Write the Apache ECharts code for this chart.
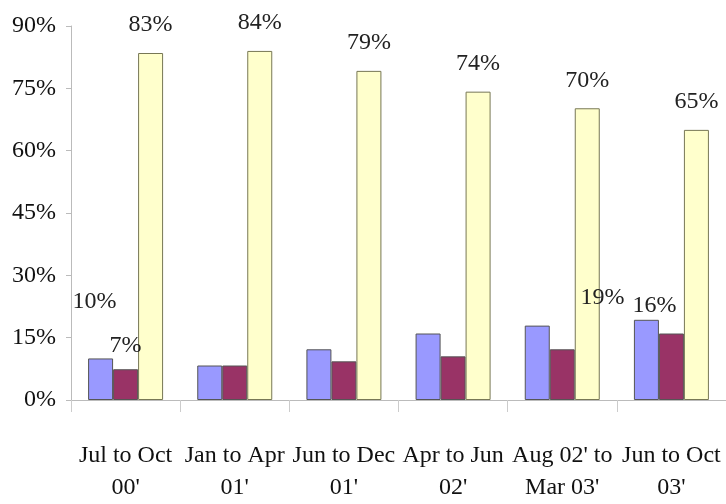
<!DOCTYPE html>
<html>
<head>
<meta charset="utf-8">
<script src="https://cdn.jsdelivr.net/npm/echarts@6/dist/echarts.min.js"></script>
<style>
  html, body { margin: 0; padding: 0; background: #fff; }
  #chart { width: 726px; height: 504px; }
</style>
</head>
<body>
<div id="chart"></div>
<script>
var categories = ["Jul to Oct\n00'", "Jan to Apr\n01'", "Jun to Dec\n01'", "Apr to Jun\n02'", "Aug 02' to\nMar 03'", "Jun to Oct\n03'"]
var blueValues = [10, 8.3, 12.2, 16, 17.9, 19.3]
var redValues = [7.4, 8.3, 9.3, 10.5, 12.2, 16]
var yellowValues = [83.5, 84, 79.2, 74.2, 70.2, 65]
var blueLabels = ['10%', '', '', '', '', '19%']
var redLabels = ['7%', '', '', '', '', '16%']
var yellowLabels = ['83%', '84%', '79%', '74%', '70%', '65%']

// where the odd labels sit relative to their bars
var blueOffsets = [[-6, -37], null, null, null, null, [-44, -2]]
var redOffsets = [[0, -4], null, null, null, null, [-17, -8]]

var labelFont = { fontFamily: 'Liberation Serif', fontSize: 24, color: '#222' }

function buildData(values, texts, offsets, dist) {
    return values.map(function (v, i) {
        var item = { value: v }
        if (texts[i]) {
            item.label = Object.assign({
                show: true,
                position: 'top',
                distance: dist,
                offset: (offsets && offsets[i]) || [0, 0],
                formatter: texts[i]
            }, labelFont)
        }
        return item
    })
}

var myChart = echarts.init(document.getElementById('chart'))
var barBorder = { borderColor: '#555', borderWidth: 1 }
myChart.setOption({
    animation: false,
    grid: { left: 71, top: 26, width: 658, height: 377 },
    xAxis: {
        type: 'category',
        data: categories,
        axisLine: { lineStyle: { color: '#bbb' } },
        axisTick: { show: true, length: 12, lineStyle: { color: '#ccc' } },
        axisLabel: {
            fontFamily: 'Liberation Serif',
            fontSize: 24,
            color: '#111',
            lineHeight: 32,
            margin: 40,
            interval: 0
        }
    },
    yAxis: {
        type: 'value',
        min: 0,
        max: 90,
        interval: 15,
        splitLine: { show: false },
        axisLine: { show: true, lineStyle: { color: '#bbb' } },
        axisTick: { show: true, length: 5, lineStyle: { color: '#bbb' } },
        axisLabel: {
            formatter: '{value}%',
            fontFamily: 'Liberation Serif',
            fontSize: 24,
            color: '#111',
            margin: 15
        }
    },
    series: [{
        type: 'bar',
        barWidth: 25,
        barGap: '0%',
        itemStyle: Object.assign({ color: '#9999ff' }, barBorder),
        data: buildData(blueValues, blueLabels, blueOffsets, 8)
    }, {
        type: 'bar',
        barWidth: 25,
        barGap: '0%',
        itemStyle: Object.assign({ color: '#993366' }, barBorder),
        data: buildData(redValues, redLabels, redOffsets, 8)
    }, {
        type: 'bar',
        barWidth: 25,
        barGap: '0%',
        itemStyle: { color: '#ffffcc', borderColor: '#777755', borderWidth: 1 },
        data: buildData(yellowValues, yellowLabels, null, 16)
    }]
})
</script>
</body>
</html>
